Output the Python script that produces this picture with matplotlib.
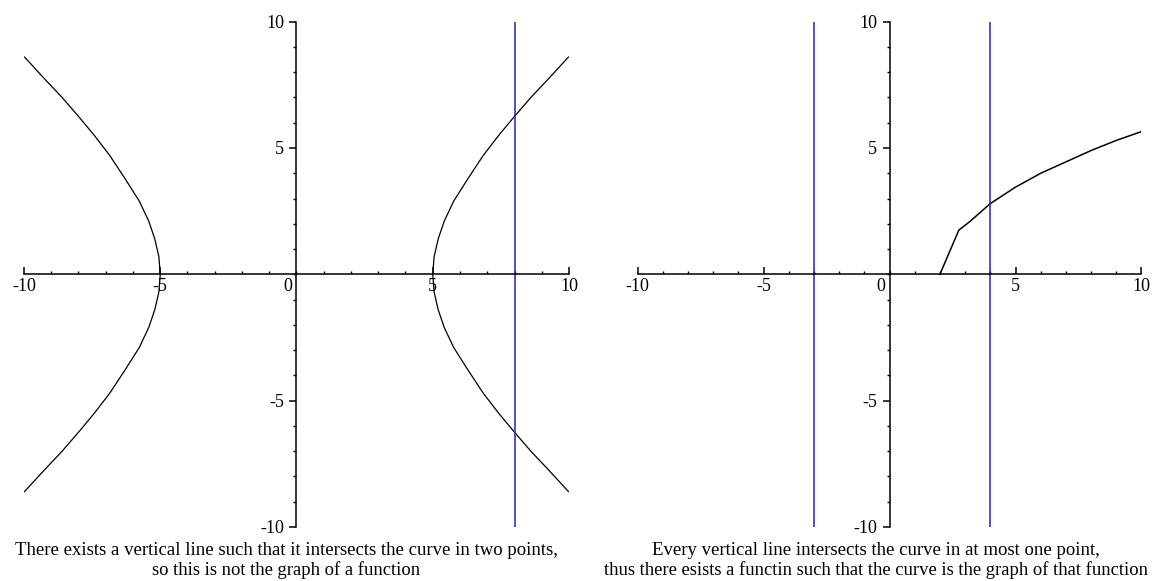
import numpy as np
import matplotlib.pyplot as plt
from matplotlib.ticker import MultipleLocator

plt.rcParams['font.family'] = ['Liberation Serif', 'DejaVu Serif']

hyp_x = [5.0, 5.05, 5.2, 5.42, 5.77, 6.3, 6.85, 7.42, 7.96, 8.6, 9.3, 9.98]
hyp_y = [0.0, 0.7, 1.4, 2.1, 2.9, 3.8, 4.7, 5.5, 6.2, 7.0, 7.8, 8.6]
left_vlines = [8]

# right panel curve
fun_x = [2.0, 2.75, 3.2, 4.0, 5.0, 6.0, 7.0, 8.0, 9.0, 10.0]
fun_y = [0.0, 1.75, 2.1, 2.8, 3.45, 4.0, 4.45, 4.9, 5.3, 5.65]
right_vlines = [-3, 4]

major = [-10, -5, 5, 10]
major_labels = ['-10', '-5', '5', '10']
left_caption = ['There exists a vertical line such that it intersects the curve in two points,',
                'so this is not the graph of a function']
right_caption = ['Every vertical line intersects the curve in at most one point,',
                 'thus there esists a functin such that the curve is the graph of that function']

blue = '#2323bd'

fig = plt.figure(figsize=(11.53, 5.81), dpi=100)
ax1 = fig.add_axes([0.0208, 0.093, 0.4727, 0.8697])
ax2 = fig.add_axes([0.553, 0.093, 0.437, 0.8697])


def style(ax):
    ax.set_xlim(-10, 10)
    ax.set_ylim(-10, 10)
    for s in ['top', 'right']:
        ax.spines[s].set_visible(False)
    ax.spines['left'].set_position(('data', 0))
    ax.spines['bottom'].set_position(('data', 0))
    for s in ['left', 'bottom']:
        ax.spines[s].set_linewidth(1.1)
    ax.set_xticks(major)
    ax.set_xticklabels(major_labels)
    ax.set_yticks(major)
    ax.set_yticklabels(major_labels)
    ax.xaxis.set_minor_locator(MultipleLocator(1))
    ax.yaxis.set_minor_locator(MultipleLocator(1))
    ax.tick_params(axis='x', which='major', direction='in', length=5, width=1.1,
                   labelsize=13, pad=3)
    ax.tick_params(axis='x', which='minor', direction='in', length=2.5, width=1)
    ax.tick_params(axis='y', which='major', direction='out', length=5, width=1.1,
                   labelsize=13, pad=4)
    ax.tick_params(axis='y', which='minor', direction='out', length=2.5, width=1)
    ax.annotate('0', (0, 0), xytext=(-6, -3), textcoords='offset points',
                ha='center', va='top', fontsize=13)
    ax.patch.set_alpha(0)


style(ax1)
style(ax2)

hx = np.array(hyp_x)
hy = np.array(hyp_y)
for sx in [1, -1]:
    xs = np.concatenate([sx * hx[::-1], sx * hx[1:]])
    ys = np.concatenate([hy[::-1], -hy[1:]])
    ax1.plot(xs, ys, color='black', lw=0.9)
for v in left_vlines:
    ax1.axvline(v, color=blue, lw=1.1)

ax2.plot(fun_x, fun_y, color='black', lw=1.1)
for v in right_vlines:
    ax2.axvline(v, color=blue, lw=1.1)

for cap, xc in [(left_caption, 0.248), (right_caption, 0.7595)]:
    fig.text(xc, 0.053, cap[0], ha='center', va='center', fontsize=13.5)
    fig.text(xc, 0.018, cap[1], ha='center', va='center', fontsize=13.4)

fig.savefig('out.png', dpi=100)
